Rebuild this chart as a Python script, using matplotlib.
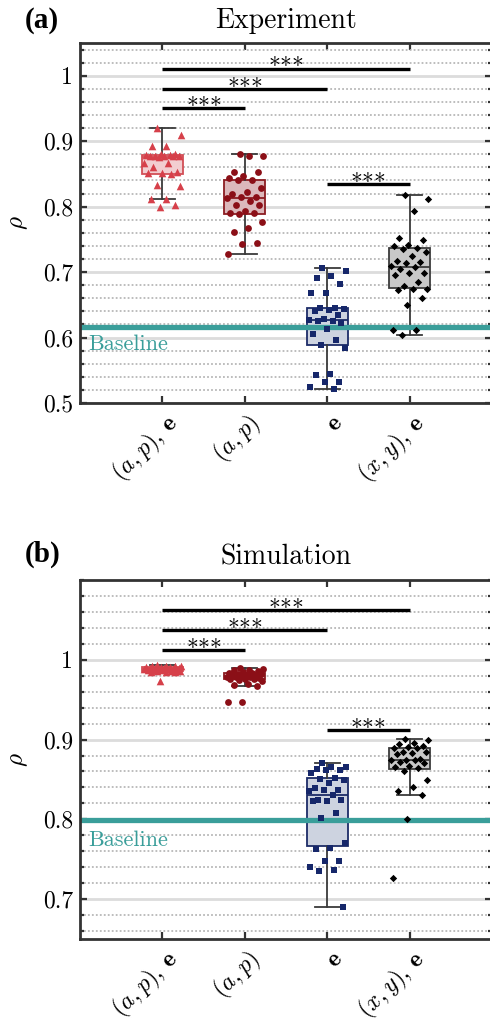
import numpy as np
import matplotlib
matplotlib.use("Agg")
import matplotlib.pyplot as plt
import matplotlib.transforms as mtransforms
from matplotlib.ticker import FixedLocator, MultipleLocator

# ---------------- data ----------------
categories = [r'$(a,p),\,\mathbf{e}$', r'$(a,p)$', r'$\mathbf{e}$', r'$(x,y),\,\mathbf{e}$']

exp_ap_e = [0.920, 0.909, 0.893, 0.892, 0.881, 0.880, 0.879, 0.879, 0.878, 0.878, 0.878,
            0.877, 0.877, 0.876, 0.867, 0.866, 0.860, 0.853, 0.852, 0.851, 0.850, 0.833,
            0.832, 0.812, 0.811, 0.803, 0.800]
exp_ap = [0.880, 0.878, 0.878, 0.853, 0.853, 0.847, 0.843, 0.840, 0.840, 0.829, 0.822,
          0.820, 0.814, 0.814, 0.813, 0.809, 0.803, 0.803, 0.794, 0.791, 0.790, 0.788,
          0.776, 0.767, 0.762, 0.744, 0.743, 0.728]
exp_e = [0.706, 0.702, 0.694, 0.691, 0.682, 0.668, 0.668, 0.645, 0.645, 0.643, 0.642,
         0.640, 0.635, 0.629, 0.627, 0.626, 0.625, 0.622, 0.613, 0.606, 0.596, 0.589,
         0.584, 0.544, 0.543, 0.532, 0.532, 0.525, 0.522]
exp_xy_e = [0.818, 0.812, 0.794, 0.752, 0.749, 0.742, 0.740, 0.737, 0.735, 0.730, 0.725,
            0.717, 0.716, 0.714, 0.709, 0.708, 0.705, 0.699, 0.698, 0.695, 0.685, 0.678,
            0.674, 0.674, 0.673, 0.660, 0.650, 0.612, 0.611, 0.604]

sim_ap_e = [0.9933, 0.9928, 0.9925, 0.9920, 0.9917, 0.9912, 0.9910, 0.9905, 0.9902, 0.9900,
            0.9897, 0.9893, 0.9890, 0.9887, 0.9884, 0.9880, 0.9877, 0.9873, 0.9870, 0.9866,
            0.9862, 0.9858, 0.9855, 0.9850, 0.9846, 0.9842, 0.9740]
sim_ap = [0.990, 0.988, 0.9875, 0.987, 0.986, 0.985, 0.984, 0.983, 0.9825, 0.982, 0.981,
          0.9805, 0.980, 0.9795, 0.979, 0.9785, 0.978, 0.977, 0.9765, 0.976, 0.9755, 0.975,
          0.973, 0.970, 0.968, 0.967, 0.947, 0.947]
sim_e = [0.870, 0.866, 0.866, 0.863, 0.862, 0.862, 0.858, 0.852, 0.851, 0.849, 0.846,
         0.839, 0.837, 0.837, 0.836, 0.830, 0.824, 0.824, 0.823, 0.823, 0.8075, 0.802,
         0.770, 0.764, 0.7625, 0.748, 0.7475, 0.740, 0.736, 0.735, 0.690]
sim_xy_e = [0.901, 0.899, 0.896, 0.895, 0.892, 0.891, 0.890, 0.889, 0.885, 0.884, 0.883,
            0.882, 0.876, 0.875, 0.874, 0.874, 0.872, 0.870, 0.867, 0.865, 0.864, 0.861,
            0.849, 0.840, 0.836, 0.830, 0.800, 0.727]

exp_baseline = 0.616
sim_baseline = 0.799

exp_yticks = [0.5, 0.6, 0.7, 0.8, 0.9, 1.0]
exp_yticklabels = ['0.5', '0.6', '0.7', '0.8', '0.9', '1']
sim_yticks = [0.7, 0.8, 0.9, 1.0]
sim_yticklabels = ['0.7', '0.8', '0.9', '1']

# significance brackets: (from group, to group, level)
exp_sig = [(1, 2, 0.950), (1, 3, 0.980), (1, 4, 1.011), (3, 4, 0.835)]
sim_sig = [(1, 2, 1.012), (1, 3, 1.0375), (1, 4, 1.0625), (3, 4, 0.912)]
sig_label = r'${\ast}{\ast}{\ast}$'

# ---------------- style ----------------
plt.rcParams['font.family'] = ['cmr10', 'DejaVu Serif']
plt.rcParams['mathtext.fontset'] = 'cm'
plt.rcParams['axes.unicode_minus'] = False
plt.rcParams['axes.formatter.use_mathtext'] = True

marker_colors = ['#d6404a', '#8b0f17', '#16276a', '#000000']
box_faces = ['#f2cdd0', '#dcb8bb', '#cdd3e0', '#c8c8c8']
box_edges = ['#d24f57', '#8c1c22', '#1d2c68', '#3c3c3c']
markers = ['^', 'o', 's', 'D']
msizes = [30, 24, 16, 14]
teal = '#3a9e9a'
spine_col = '#333333'

fig = plt.figure(figsize=(4.9, 10.25), dpi=100)
W, H = 490.0, 1025.0
axA = fig.add_axes([80 / W, 1 - 403 / H, 412 / W, 360 / H])
axB = fig.add_axes([80 / W, 1 - 939 / H, 412 / W, 359 / H])


def jitter(n):
    i = np.arange(n)
    return ((i * 0.6180339887 + 0.37) % 1.0 - 0.5) * 0.46


def draw(ax, groups, ylim, yticks, yticklabels, baseline, base_text_y, sig, title):
    ax.set_xlim(0, 5)
    ax.set_ylim(*ylim)
    ax.yaxis.set_major_locator(FixedLocator(yticks))
    ax.set_yticklabels(yticklabels)
    ax.yaxis.set_minor_locator(MultipleLocator(0.02))
    ax.grid(True, which='major', axis='y', color='#dcdcdc', lw=2.0, zorder=0)
    ax.grid(True, which='minor', axis='y', color='#b8b8b8', lw=1.3,
            ls=(0, (1.0, 1.2)), zorder=0)
    ax.set_axisbelow(True)

    positions = [1, 2, 3, 4]
    bp = ax.boxplot(groups, positions=positions, widths=0.5, patch_artist=True,
                    showfliers=False, whis=1.5, capwidths=0.3, zorder=2)
    for k in range(4):
        bp['boxes'][k].set(facecolor=box_faces[k], edgecolor=box_edges[k], lw=1.3)
        bp['medians'][k].set(color=box_edges[k], lw=1.3)
        for w in bp['whiskers'][2 * k:2 * k + 2]:
            w.set(color='#3a3a3a', lw=1.3)
        for c in bp['caps'][2 * k:2 * k + 2]:
            c.set(color='#3a3a3a', lw=1.3)

    ax.axhline(baseline, color=teal, lw=3.8, zorder=2.5)
    ax.text(0.1, base_text_y, 'Baseline', color=teal, fontsize=16,
            ha='left', va='baseline', zorder=4)

    for k, g in enumerate(groups):
        g = np.asarray(g)
        ax.scatter(positions[k] + jitter(len(g)), g, marker=markers[k],
                   s=msizes[k], color=marker_colors[k], lw=0, zorder=3)

    for a, b, lev in sig:
        ax.plot([a, b], [lev, lev], color='black', lw=2.4, solid_capstyle='butt', zorder=4)
        ax.annotate(sig_label, xy=((a + b) / 2, lev), xytext=(0, 1.5),
                    textcoords='offset points', ha='center', va='baseline',
                    fontsize=17, zorder=4)

    ax.set_xticks(positions)
    ax.set_xticklabels(categories, rotation=45, ha='right', va='center',
                       rotation_mode='anchor', fontsize=17.5)
    ax.tick_params(axis='y', which='major', labelsize=17, pad=5)
    ax.tick_params(which='both', direction='in', top=True, right=True,
                   color=spine_col, width=1.6)
    ax.tick_params(which='major', length=5)
    ax.tick_params(which='minor', length=3)
    ax.tick_params(axis='x', which='major', pad=12)
    shift = mtransforms.ScaledTranslation(0.12, 0.0, fig.dpi_scale_trans)
    for tick in ax.xaxis.get_major_ticks():
        tick.label1.set_transform(tick.label1.get_transform() + shift)
    for sp in ax.spines.values():
        sp.set_linewidth(2.0)
        sp.set_color(spine_col)
    ax.set_ylabel(r'$\rho$', fontsize=18, labelpad=9)
    ax.set_title(title, fontsize=20, pad=11)


draw(axA, [exp_ap_e, exp_ap, exp_e, exp_xy_e], (0.5, 1.05), exp_yticks, exp_yticklabels,
     exp_baseline, 0.581, exp_sig, 'Experiment')
draw(axB, [sim_ap_e, sim_ap, sim_e, sim_xy_e], (0.65, 1.1), sim_yticks, sim_yticklabels,
     sim_baseline, 0.7667, sim_sig, 'Simulation')

fig.text(25 / W, 1 - 28 / H, '(a)', family='Liberation Serif', fontweight='bold',
         fontsize=21, ha='left', va='baseline')
fig.text(25 / W, 1 - 562 / H, '(b)', family='Liberation Serif', fontweight='bold',
         fontsize=21, ha='left', va='baseline')

fig.savefig('out.png', dpi=100)
